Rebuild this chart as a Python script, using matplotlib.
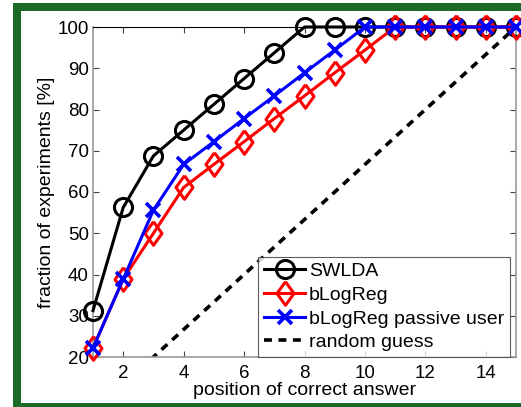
import matplotlib
matplotlib.use("Agg")
import matplotlib.pyplot as plt
from matplotlib.patches import Rectangle

plt.rcParams['font.family'] = ['Liberation Sans', 'DejaVu Sans']

positions = list(range(1, 16))
swlda = [31.25, 56.25, 68.75, 75.0, 81.25, 87.5, 93.75, 100, 100, 100, 100, 100, 100, 100, 100]
blogreg = [22.2, 38.9, 50.0, 61.1, 66.7, 72.2, 77.8, 83.3, 88.9, 94.4, 100, 100, 100, 100, 100]
blogreg_passive = [22.2, 38.9, 55.6, 66.7, 72.2, 77.8, 83.3, 88.9, 94.4, 100, 100, 100, 100, 100, 100]
random_x = [1, 15]
random_y = [100 / 15, 100]

labels = ['SWLDA', 'bLogReg', 'bLogReg passive user', 'random guess']
xticks = [2, 4, 6, 8, 10, 12, 14]
yticks = [20, 30, 40, 50, 60, 70, 80, 90, 100]

W, H = 521, 407
fig = plt.figure(figsize=(W / 100, H / 100), dpi=100)
fig.patch.set_facecolor('white')

green = '#1b6a26'
def px_rect(x0, y0, x1, y1):
    # pixel coords from top-left
    fig.add_artist(Rectangle((x0 / W, 1 - y1 / H), (x1 - x0) / W, (y1 - y0) / H,
                             transform=fig.transFigure, facecolor=green,
                             edgecolor='none', zorder=0))
px_rect(13, 3, W, 11)
px_rect(13, 3, 21, H)
px_rect(13, 403, W, H)

ax = fig.add_axes([93 / W, 1 - 357 / H, (516 - 93) / W, (357 - 27) / H])

diamond = [(0, 1), (0.72, 0), (0, -1), (-0.72, 0), (0, 1)]

ax.plot(positions, swlda, color='black', lw=2.2, marker='o', ms=13,
        mfc='none', mew=2.2, clip_on=False, label=labels[0], zorder=3)
ax.plot(positions, blogreg, color='red', lw=2.2, marker=diamond, ms=17,
        mfc='none', mew=2.2, clip_on=False, label=labels[1], zorder=4)
ax.plot(positions, blogreg_passive, color='blue', lw=2.2, marker='x', ms=10,
        mew=2.6, clip_on=False, label=labels[2], zorder=5)
ax.plot(random_x, random_y, color='black', lw=2.6, ls=(0, (2.2, 1.8)),
        label=labels[3], zorder=2)

ax.set_xlim(1, 15)
ax.set_ylim(20, 100)
ax.set_xticks(xticks)
ax.set_yticks(yticks)
ax.tick_params(direction='in', length=4, width=0.8, colors='#444444',
               labelcolor='black', labelsize=13.5, top=True, right=True)
ax.tick_params(axis='x', pad=6)
ax.tick_params(axis='y', pad=3)
for s in ['left', 'bottom', 'right']:
    ax.spines[s].set_color('#999999')
    ax.spines[s].set_linewidth(1.2)
ax.spines['top'].set_color('black')
ax.spines['top'].set_linewidth(0.8)

ax.set_xlabel('position of correct answer', fontsize=14, labelpad=0)
ax.set_ylabel('fraction of experiments [%]', fontsize=14, labelpad=2)

leg = ax.legend(loc='lower right', bbox_to_anchor=(0.986, 0.0), borderaxespad=0,
                fontsize=14, frameon=True, fancybox=False, edgecolor='#333333',
                handlelength=2.1, handletextpad=0.2, borderpad=0.3,
                labelspacing=0.31)
leg.get_frame().set_linewidth(0.8)
leg.set_zorder(10)

fig.savefig('out.png', dpi=100, facecolor='white')
